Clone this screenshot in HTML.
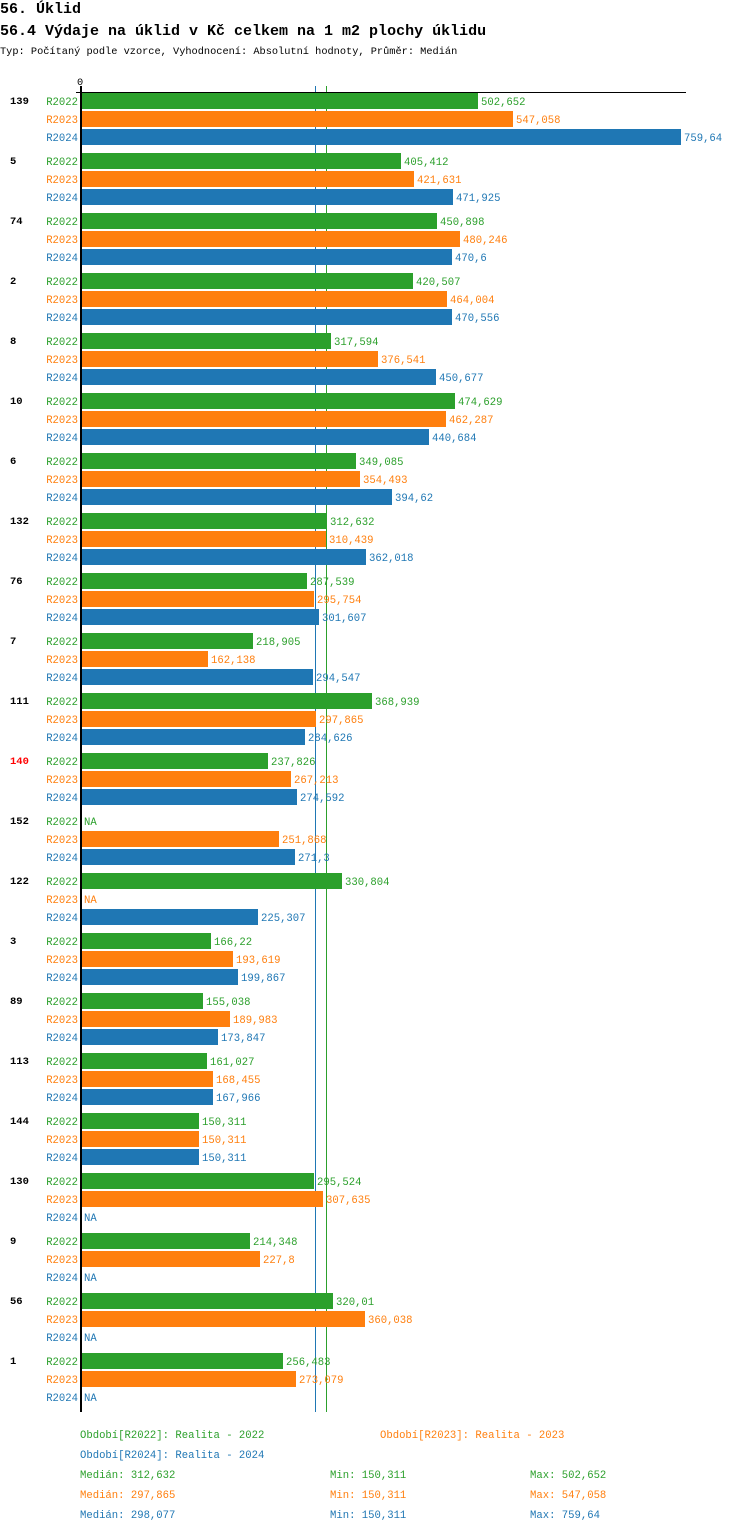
<!DOCTYPE html>
<html><head><meta charset="utf-8"><style>
body{margin:0;background:#fff;width:750px;height:1532px;overflow:hidden;font-family:"Liberation Mono",monospace;}
svg text{font-family:"Liberation Mono","DejaVu Sans Mono",monospace;}
</style></head><body>
<svg id="c" width="750" height="1532" xmlns="http://www.w3.org/2000/svg">
<text x="0" y="13" font-size="15" font-weight="bold">56. Úklid</text>
<text x="0" y="35" font-size="15" font-weight="bold">56.4 Výdaje na úklid v Kč celkem na 1 m2 plochy úklidu</text>
<text x="0" y="54" font-size="10.3">Typ: Počítaný podle vzorce, Vyhodnocení: Absolutní hodnoty, Průměr: Medián</text>
<text x="77" y="85" font-size="10.3">0</text>
<g id="g"></g>
</svg>
<script>
const categories=["139","5","74","2","8","10","6","132","76","7","111","140","152","122","3","89","113","144","130","9","56","1"];
const r2022=[502.652,405.412,450.898,420.507,317.594,474.629,349.085,312.632,287.539,218.905,368.939,237.826,null,330.804,166.22,155.038,161.027,150.311,295.524,214.348,320.01,256.483];
const r2023=[547.058,421.631,480.246,464.004,376.541,462.287,354.493,310.439,295.754,162.138,297.865,267.213,251.868,null,193.619,189.983,168.455,150.311,307.635,227.8,360.038,273.079];
const r2024=[759.64,471.925,470.6,470.556,450.677,440.684,394.62,362.018,301.607,294.547,284.626,274.592,271.3,225.307,199.867,173.847,167.966,150.311,null,null,null,null];
const seriesNames=["R2022","R2023","R2024"];
const medians=[312.632,297.865,298.077];
const mins=[150.311,150.311,150.311];
const maxs=[502.652,547.058,759.64];
const highlight="140";
const colors=["#2ca02c","#ff7f0e","#1f77b4"];
const NS="http://www.w3.org/2000/svg";
const g=document.getElementById('g');
const X0=80,K=0.791,TOP=92,GH=60,RH=18;
const xs=v=>X0+v*K;
function el(t,a,txt){const e=document.createElementNS(NS,t);for(const k in a)e.setAttribute(k,a[k]);if(txt!=null)e.textContent=txt;g.appendChild(e);return e;}
const fmt=v=>String(v).replace('.',',');
const bottom=TOP+GH*categories.length;
[1,2,0].forEach(s=>{
 const mx=Math.round(xs(medians[s]))-0.5;
 const l=el('line',{x1:mx,x2:mx,y1:86,y2:bottom,stroke:colors[s],'stroke-width':1});
 
 
});
const all=[r2022,r2023,r2024];
categories.forEach((c,i)=>{
 const gy=TOP+GH*i;
 const t=el('text',{x:10,y:gy+12,'font-size':10.5,'font-weight':'bold',fill:c===highlight?'#ff0000':'#000'},c);
 
 
 all.forEach((arr,s)=>{
  const y=gy+RH*s+1;
  const sl=el('text',{x:78,y:y+12,'font-size':10.6,'text-anchor':'end',fill:colors[s]},seriesNames[s]);
  
  
  const v=arr[i];
  if(v==null){
   const na=el('text',{x:84,y:y+12,'font-size':10.6,fill:colors[s]},'NA');
   
   
  }else{
   const b=el('rect',{x:82,y:y,width:Math.round(xs(v))-82,height:16,fill:colors[s]});
   
   
   const vl=el('text',{x:Math.round(xs(v))+3,y:y+12,'font-size':10.6,fill:colors[s]},fmt(v));
   
   
  }
 });
});
const ax=el('line',{x1:81,x2:81,y1:86,y2:bottom,stroke:'#000','stroke-width':2});


const tl=el('line',{x1:76,x2:686,y1:92.5,y2:92.5,stroke:'#000','stroke-width':1});


const legPos=[[80,1438],[380,1438],[80,1458]];
seriesNames.forEach((n,s)=>{
 const t=el('text',{x:legPos[s][0],y:legPos[s][1],'font-size':10.6,fill:colors[s]},'Období['+n+']: Realita - '+n.slice(1));
 
 
 const y=1478+20*s;
 const a=el('text',{x:80,y:y,'font-size':10.6,fill:colors[s]},'Medián: '+fmt(medians[s]));
 
 
 const b=el('text',{x:330,y:y,'font-size':10.6,fill:colors[s]},'Min: '+fmt(mins[s]));
 
 
 const d=el('text',{x:530,y:y,'font-size':10.6,fill:colors[s]},'Max: '+fmt(maxs[s]));
 
 
});
</script>
</body></html>
